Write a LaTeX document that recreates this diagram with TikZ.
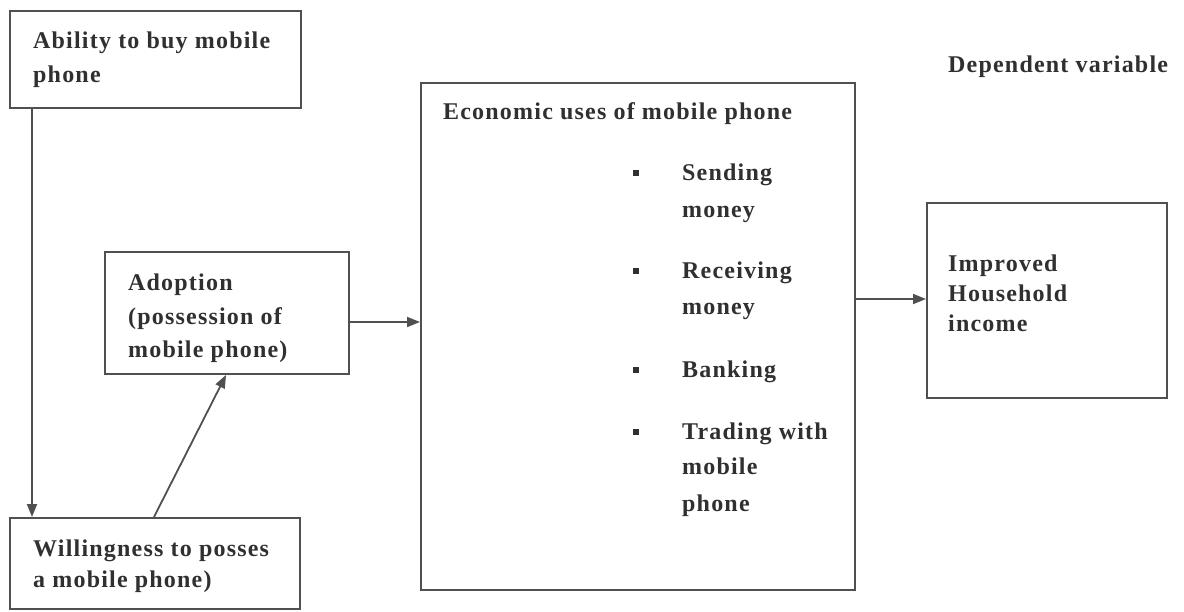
\documentclass[tikz,border=0pt]{standalone}
\usepackage{fontspec}
\setmainfont{Liberation Serif}[LetterSpace=5]
\usetikzlibrary{arrows.meta,fit}
\definecolor{linec}{HTML}{505050}
\definecolor{textc}{HTML}{303030}
\tikzset{
  box/.style={draw=linec, line width=2pt, inner sep=0pt, fill=none},
  txt/.style={anchor=base west, inner sep=0pt, text=textc, font=\fontsize{24}{34}\selectfont\bfseries},
  conn/.style={draw=linec, line width=1.8pt, -{Triangle[length=13pt,width=10pt]}},
  bul/.style={fill=textc, minimum size=6pt, inner sep=0pt}
}
\begin{document}
\begin{tikzpicture}[x=1pt,y=-1pt]
\useasboundingbox[fill=white] (0,0) rectangle (1184,611);
% boxes
\node[box, fit={(10,11)(301,108)}] (A) {};
\node[box, fit={(105,252)(349,374)}] (D) {};
\node[box, fit={(10,518)(300,609)}] (W) {};
\node[box, fit={(421,83)(855,590)}] (E) {};
\node[box, fit={(927,203)(1167,398)}] (I) {};
% texts
\node[txt] (a1) at (33,48) {Ability to buy mobile};
\node[txt] (a2) at (33,82) {phone};
\node[txt] (d1) at (128,290) {Adoption};
\node[txt] (d2) at (128,324) {(possession of};
\node[txt] (d3) at (128,357) {mobile phone)};
\node[txt] (w1) at (33,556) {Willingness to posses};
\node[txt] (w2) at (33,587) {a mobile phone)};
\node[txt] (e0) at (443,119) {Economic uses of mobile phone};
\node[bul] (b1) at (636,173) {};
\node[txt] (e1) at (682,180) {Sending};
\node[txt] (e2) at (682,217) {money};
\node[bul] (b2) at (636,271) {};
\node[txt] (e3) at (682,278) {Receiving};
\node[txt] (e4) at (682,314) {money};
\node[bul] (b3) at (636,370) {};
\node[txt] (e5) at (682,377) {Banking};
\node[bul] (b4) at (636,432) {};
\node[txt] (e6) at (682,439) {Trading with};
\node[txt] (e7) at (682,474) {mobile};
\node[txt] (e8) at (682,511) {phone};
\node[txt] (i1) at (948,271) {Improved};
\node[txt] (i2) at (948,301) {Household};
\node[txt] (i3) at (948,331) {income};
\node[txt] (dv) at (948,72) {Dependent variable};
% connectors
\draw[conn] ([xshift=23pt]A.south west) -- ([xshift=23pt]W.north west);
\draw[conn] ([xshift=145pt]W.north west) -- ([xshift=122pt]D.south west);
\draw[conn] ([yshift=-71pt]D.north east) -- ([yshift=-240pt]E.north west);
\draw[conn] ([yshift=-217pt]E.north east) -- ([yshift=-97pt]I.north west);
\end{tikzpicture}
\end{document}
